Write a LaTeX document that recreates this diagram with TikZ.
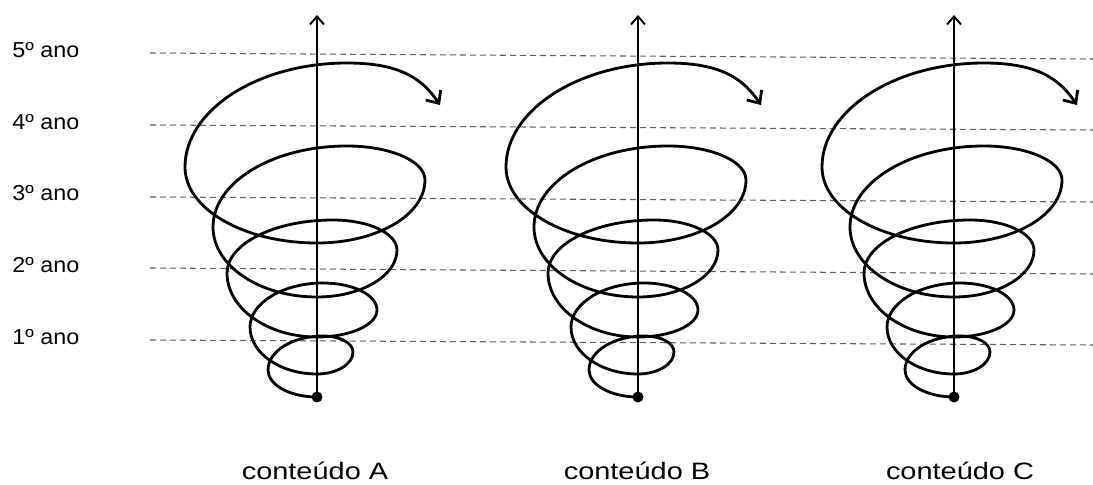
\documentclass[tikz,border=0pt]{standalone}
\usepackage{fontspec}
\setmainfont{Liberation Sans}
\newfontfamily\yearfont[FakeStretch=1.08]{Liberation Sans}
\newfontfamily\topicfont[FakeStretch=1.22]{Liberation Sans}
\usetikzlibrary{arrows.meta}

\tikzset{
  guide/.style={draw=black!62, dash pattern=on 1.2mm off 0.8mm, line width=0.6pt},
  yearlabel/.style={anchor=west, inner sep=0pt, font=\yearfont\fontsize{12.3}{14}\selectfont},
  topiclabel/.style={inner sep=0pt, font=\topicfont\fontsize{13.5}{15}\selectfont},
  axisline/.style={line width=1.1pt, -{Straight Barb[length=1.6mm,width=2.8mm]}},
  spiralline/.style={line width=1.6pt, line cap=round, -{Straight Barb[length=2mm,width=3.6mm]}},
  basedot/.style={circle, fill=black, inner sep=0pt, minimum size=2.2mm},
  % one growing helix rising from a base dot, with its vertical axis;
  % each piece is a quarter turn between two extreme points of a loop
  spiral/.pic={
    \node[basedot] (-base) at (0,0) {};
    \coordinate (-top) at (0,382);
    \draw[axisline] (-base.center) -- (-top);
    \draw[spiralline] (-base.center)
      .. controls +(-27,0)  and +(0,-15)  .. (-49,27)
      .. controls +(0,19)   and +(-30,0)  .. (6,61)
      .. controls +(17,0)   and +(0,9)    .. (36,45)
      .. controls +(0,-12)  and +(20,0)   .. (0,23)
      .. controls +(-37,0)  and +(0,-26)  .. (-67,70)
      .. controls +(0,24)   and +(-40,0)  .. (6,114)
      .. controls +(30,0)   and +(0,15)   .. (60,87)
      .. controls +(0,-15)  and +(33,0)   .. (0,60)
      .. controls +(-50,0)  and +(0,-35)  .. (-90,124)
      .. controls +(0,29)   and +(-59,0)  .. (16,177)
      .. controls +(35,0)   and +(0,17)   .. (80,147)
      .. controls +(0,-26)  and +(44,0)   .. (0,100)
      .. controls +(-57,0)  and +(0,-39)  .. (-104,170)
      .. controls +(0,45)   and +(-74,0)  .. (30,251)
      .. controls +(43,0)   and +(0,19)   .. (108,217)
      .. controls +(0,-35)  and +(60,0)   .. (0,154)
      .. controls +(-73,0)  and +(0,-42)  .. (-132,230)
      .. controls +(0,57)   and +(-89,0)  .. (30,334)
      .. controls +(55,0)   and +(-17,25) .. (123,292);
  }
}

\begin{document}
\begin{tikzpicture}[x=0.02cm,y=0.02cm]
  \useasboundingbox (0,0) rectangle (1093,484);

  % school-year guide lines
  \draw[guide] (150,431) -- (1093,425);
  \draw[guide] (150,359) -- (1093,354);
  \draw[guide] (150,287) -- (1093,282);
  \draw[guide] (150,216) -- (1093,210);
  \draw[guide] (150,144) -- (1093,139);

  % year labels
  \node[yearlabel] (y5) at (12,434) {5º ano};
  \node[yearlabel] (y4) at (12,362) {4º ano};
  \node[yearlabel] (y3) at (12,291) {3º ano};
  \node[yearlabel] (y2) at (12,219) {2º ano};
  \node[yearlabel] (y1) at (12,147) {1º ano};

  % the three spirals
  \pic (sa) at (317,87) {spiral};
  \pic (sb) at (638,87) {spiral};
  \pic (sc) at (954,87) {spiral};

  % topic captions
  \node[topiclabel] (ca) at (315,13) {conteúdo A};
  \node[topiclabel] (cb) at (637,13) {conteúdo B};
  \node[topiclabel] (cc) at (960,13) {conteúdo C};
\end{tikzpicture}
\end{document}
